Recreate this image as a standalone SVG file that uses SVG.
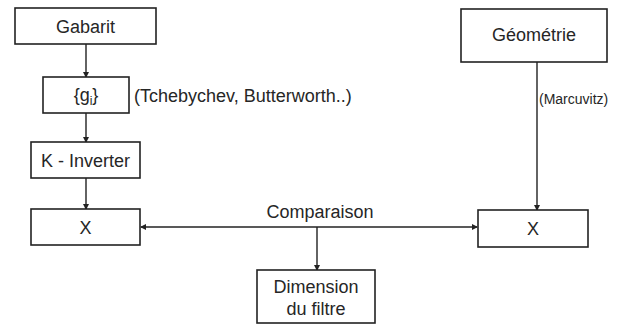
<svg xmlns="http://www.w3.org/2000/svg" width="624" height="325" viewBox="0 0 624 325">
<style>
.box{fill:#fff;stroke:#222;stroke-width:1.6}
.t{font-family:"Liberation Sans",Arial,sans-serif;font-size:18px;fill:#262626;text-anchor:middle}
.l{font-family:"Liberation Sans",Arial,sans-serif;font-size:18px;fill:#262626}
.s{font-family:"Liberation Sans",Arial,sans-serif;font-size:14px;fill:#262626}
.c{fill:none;stroke:#222;stroke-width:1.4}
</style>
<defs>
<marker id="ah" markerWidth="6" markerHeight="6" refX="5" refY="3" orient="auto" markerUnits="userSpaceOnUse">
<path d="M0,0 L6,3 L0,6 Z" fill="#222"/>
</marker>
</defs>
<rect width="624" height="325" fill="#fff"/>
<g id="connectors">
<line class="c" x1="86" y1="44" x2="86" y2="77" marker-end="url(#ah)"/>
<line class="c" x1="86" y1="113" x2="86" y2="142" marker-end="url(#ah)"/>
<line class="c" x1="86" y1="178" x2="86" y2="209" marker-end="url(#ah)"/>
<line class="c" x1="537" y1="62" x2="537" y2="210" marker-end="url(#ah)"/>
<line class="c" x1="317" y1="227" x2="141" y2="227" marker-end="url(#ah)"/>
<line class="c" x1="317" y1="227" x2="477" y2="227" marker-end="url(#ah)"/>
<line class="c" x1="317" y1="227" x2="317" y2="270" marker-end="url(#ah)"/>
<text class="t" x="320" y="218">Comparaison</text>
<text class="s" x="539" y="104">(Marcuvitz)</text>
</g>
<g id="gabarit">
<rect class="box" x="15" y="8" width="141" height="36"/>
<text class="t" x="85.5" y="33">Gabarit</text>
</g>
<g id="gi">
<rect class="box" x="43" y="77" width="86" height="36"/>
<text class="t" x="86" y="101">{g<tspan font-size="12" dy="4">i</tspan><tspan dy="-4">}</tspan></text>
<text class="l" x="134" y="102">(Tchebychev, Butterworth..)</text>
</g>
<g id="kinverter">
<rect class="box" x="31" y="142" width="109" height="36"/>
<text class="t" x="85.5" y="167">K - Inverter</text>
</g>
<g id="x-left">
<rect class="box" x="31" y="209" width="109" height="36"/>
<text class="t" x="85.5" y="234">X</text>
</g>
<g id="geometrie">
<rect class="box" x="461" y="9" width="146" height="53"/>
<text class="t" x="534" y="41">Géométrie</text>
</g>
<g id="x-right">
<rect class="box" x="478" y="210" width="110" height="37"/>
<text class="t" x="533" y="235">X</text>
</g>
<g id="dimension">
<rect class="box" x="257" y="270" width="118" height="53"/>
<text class="t" x="316" y="293">Dimension</text>
<text class="t" x="316" y="315">du filtre</text>
</g>
</svg>
